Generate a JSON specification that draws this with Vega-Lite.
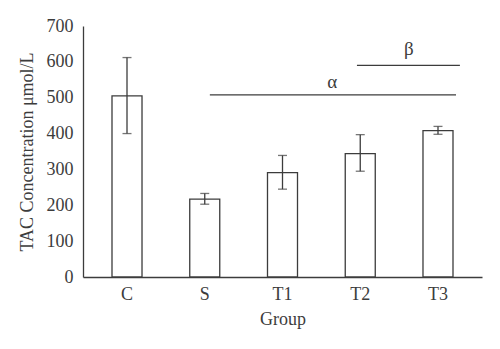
{
  "$schema": "https://vega.github.io/schema/vega-lite/v6.json",
  "autosize": "none",
  "width": 399,
  "height": 251,
  "padding": {"left": 83, "top": 26, "right": 18, "bottom": 72},
  "background": "white",
  "config": {
    "font": "Liberation Serif",
    "view": {"stroke": null},
    "axisX": {"labelAngle": 0, "ticks": false, "grid": false, "labelPadding": 8, "titlePadding": 7, "domainWidth": 1.3, "domainColor": "#3c3c3c", "labelColor": "#3c3c3c", "titleColor": "#3c3c3c", "labelFont": "Liberation Serif", "titleFont": "Liberation Serif", "labelFontSize": 18, "titleFontSize": 18, "titleFontWeight": "normal"},
    "axisY": {"labelOverlap": false, "labelFlush": false, "ticks": false, "grid": false, "labelPadding": 10, "titlePadding": 10, "domainWidth": 1.3, "domainColor": "#3c3c3c", "labelColor": "#3c3c3c", "titleColor": "#3c3c3c", "labelFont": "Liberation Serif", "titleFont": "Liberation Serif", "labelFontSize": 18, "titleFontSize": 18, "titleFontWeight": "normal"}
  },
  "datasets": {
    "bars": [
      {"group": "C", "mean": 505, "lo": 400, "hi": 612},
      {"group": "S", "mean": 217, "lo": 203, "hi": 233},
      {"group": "T1", "mean": 291, "lo": 245, "hi": 339},
      {"group": "T2", "mean": 344, "lo": 295, "hi": 397},
      {"group": "T3", "mean": 408, "lo": 398, "hi": 420}
    ],
    "alpha": [{"start": "S", "end": "T3", "y": 508, "label": "α", "labelGroup": "T2", "labelY": 545}],
    "beta": [{"start": "T2", "end": "T3", "y": 590, "label": "β", "labelGroup": "T3", "labelY": 636}]
  },
  "layer": [
    {
      "data": {"name": "bars"},
      "mark": {"type": "bar", "fill": "white", "stroke": "#3c3c3c", "strokeWidth": 1.3},
      "encoding": {
        "x": {"field": "group", "type": "nominal", "sort": ["C", "S", "T1", "T2", "T3"],
          "scale": {"paddingInner": 0.614, "paddingOuter": 0.373},
          "axis": {"title": "Group"}},
        "y": {"field": "mean", "type": "quantitative",
          "scale": {"domain": [0, 700], "nice": false},
          "axis": {"title": "TAC Concentration μmol/L", "values": [0, 100, 200, 300, 400, 500, 600, 700]}}
      }
    },
    {
      "data": {"name": "bars"},
      "mark": {"type": "rule", "color": "#3c3c3c", "strokeWidth": 1.3},
      "encoding": {
        "x": {"field": "group", "type": "nominal", "sort": ["C", "S", "T1", "T2", "T3"], "axis": {"title": "Group"}},
        "y": {"field": "lo", "type": "quantitative", "axis": {"title": "TAC Concentration μmol/L", "values": [0, 100, 200, 300, 400, 500, 600, 700]}},
        "y2": {"field": "hi"}
      }
    },
    {
      "data": {"name": "bars"},
      "mark": {"type": "tick", "color": "#3c3c3c", "size": 9, "thickness": 1.3, "orient": "horizontal"},
      "encoding": {
        "x": {"field": "group", "type": "nominal", "sort": ["C", "S", "T1", "T2", "T3"], "axis": {"title": "Group"}},
        "y": {"field": "lo", "type": "quantitative", "axis": {"title": "TAC Concentration μmol/L", "values": [0, 100, 200, 300, 400, 500, 600, 700]}}
      }
    },
    {
      "data": {"name": "bars"},
      "mark": {"type": "tick", "color": "#3c3c3c", "size": 9, "thickness": 1.3, "orient": "horizontal"},
      "encoding": {
        "x": {"field": "group", "type": "nominal", "sort": ["C", "S", "T1", "T2", "T3"], "axis": {"title": "Group"}},
        "y": {"field": "hi", "type": "quantitative", "axis": {"title": "TAC Concentration μmol/L", "values": [0, 100, 200, 300, 400, 500, 600, 700]}}
      }
    },
    {
      "data": {"name": "alpha"},
      "mark": {"type": "rule", "color": "#3c3c3c", "strokeWidth": 1.3},
      "encoding": {
        "x": {"field": "start", "type": "nominal", "bandPosition": 0.67, "axis": {"title": "Group"}},
        "x2": {"field": "end", "bandPosition": 1.1},
        "y": {"field": "y", "type": "quantitative", "axis": {"title": "TAC Concentration μmol/L", "values": [0, 100, 200, 300, 400, 500, 600, 700]}}
      }
    },
    {
      "data": {"name": "beta"},
      "mark": {"type": "rule", "color": "#3c3c3c", "strokeWidth": 1.3},
      "encoding": {
        "x": {"field": "start", "type": "nominal", "bandPosition": 0.39, "axis": {"title": "Group"}},
        "x2": {"field": "end", "bandPosition": 1.23},
        "y": {"field": "y", "type": "quantitative", "axis": {"title": "TAC Concentration μmol/L", "values": [0, 100, 200, 300, 400, 500, 600, 700]}}
      }
    },
    {
      "data": {"name": "alpha"},
      "mark": {"type": "text", "fontSize": 19, "font": "Liberation Serif", "color": "#3c3c3c", "baseline": "middle"},
      "encoding": {
        "x": {"field": "labelGroup", "type": "nominal", "bandPosition": -0.43, "axis": {"title": "Group"}},
        "y": {"field": "labelY", "type": "quantitative", "axis": {"title": "TAC Concentration μmol/L", "values": [0, 100, 200, 300, 400, 500, 600, 700]}},
        "text": {"field": "label"}
      }
    },
    {
      "data": {"name": "beta"},
      "mark": {"type": "text", "fontSize": 19, "font": "Liberation Serif", "color": "#3c3c3c", "baseline": "middle"},
      "encoding": {
        "x": {"field": "labelGroup", "type": "nominal", "bandPosition": -0.47, "axis": {"title": "Group"}},
        "y": {"field": "labelY", "type": "quantitative", "axis": {"title": "TAC Concentration μmol/L", "values": [0, 100, 200, 300, 400, 500, 600, 700]}},
        "text": {"field": "label"}
      }
    }
  ]
}
